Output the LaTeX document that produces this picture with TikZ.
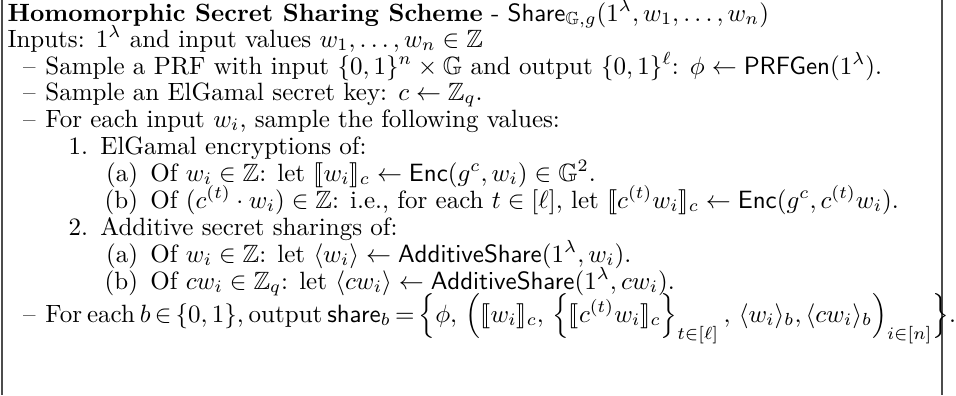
\documentclass[tikz,border=0pt]{standalone}
\usepackage{amsmath,amssymb,stmaryrd}
\newcommand{\ctxt}[1]{\llbracket #1\rrbracket_c}
\newcommand{\dashlbl}{\llap{\textendash\hspace{4pt}}}
\newcommand{\numlbl}[1]{\llap{#1\hspace{5pt}}}

\begin{document}
\begin{tikzpicture}[x=0.4pt,y=0.4pt,yscale=-1,xscale=1]
\tikzset{line/.style={anchor=base west,inner sep=0pt},
  border/.style={draw=black!70,line width=0.5pt}}
\useasboundingbox (0,0) rectangle (956,395);

%Frame sides
\draw [border] (2,0) -- (2,395);
\draw [border] (942,0) -- (942,395);

% Title and inputs
\node [line] (title) at (7,21) {\textbf{Homomorphic Secret Sharing Scheme} - $\mathsf{Share}_{\mathbb{G},g}(1^\lambda,w_1,\ldots,w_n)$};
\node [line] (inputs) at (7,47) {Inputs: $1^\lambda$ and input values $w_1,\ldots,w_n\in\mathbb{Z}$};

% Steps
\node [line] (prf) at (45,74) {\dashlbl Sample a PRF with input $\{0,1\}^n\times\mathbb{G}$ and output $\{0,1\}^\ell$: $\phi\leftarrow\mathsf{PRFGen}(1^\lambda)$.};
\node [line] (key) at (45,100) {\dashlbl Sample an ElGamal secret key: $c\leftarrow\mathbb{Z}_q$.};
\node [line] (foreach) at (45,127) {\dashlbl For each input $w_i$, sample the following values:};
\node [line] (elg) at (100,154) {\numlbl{1.}ElGamal encryptions of:};
\node [line] (elga) at (150,181) {\numlbl{(a)}Of $w_i\in\mathbb{Z}$: let $\ctxt{w_i}\leftarrow\mathsf{Enc}(g^c,w_i)\in\mathbb{G}^2$.};
\node [line] (elgb) at (150,208) {\numlbl{(b)}Of $(c^{(t)}\cdot w_i)\in\mathbb{Z}$: i.e., for each $t\in[\ell]$, let $\ctxt{c^{(t)}w_i}\leftarrow\mathsf{Enc}(g^c,c^{(t)}w_i)$.};
\node [line] (add) at (100,235) {\numlbl{2.}Additive secret sharings of:};
\node [line] (adda) at (150,262) {\numlbl{(a)}Of $w_i\in\mathbb{Z}$: let $\langle w_i\rangle\leftarrow\mathsf{AdditiveShare}(1^\lambda,w_i)$.};
\node [line] (addb) at (150,289) {\numlbl{(b)}Of $cw_i\in\mathbb{Z}_q$: let $\langle cw_i\rangle\leftarrow\mathsf{AdditiveShare}(1^\lambda,cw_i)$.};
\node [line] (output) at (45,322) {\dashlbl\spaceskip=2pt For each $b\,{\in}\,\{0,1\}$, output $\mathsf{share}_b\,{=}\,\Bigl\{\phi,\,\Bigl(\ctxt{w_i},\,\Bigl\{\ctxt{c^{(t)}w_i}\Bigr\}_{t\in[\ell]}\,,\,\langle w_i\rangle_b,\langle cw_i\rangle_b\Bigr)_{i\in[n]}\Bigr\}$.};

\end{tikzpicture}
\end{document}
